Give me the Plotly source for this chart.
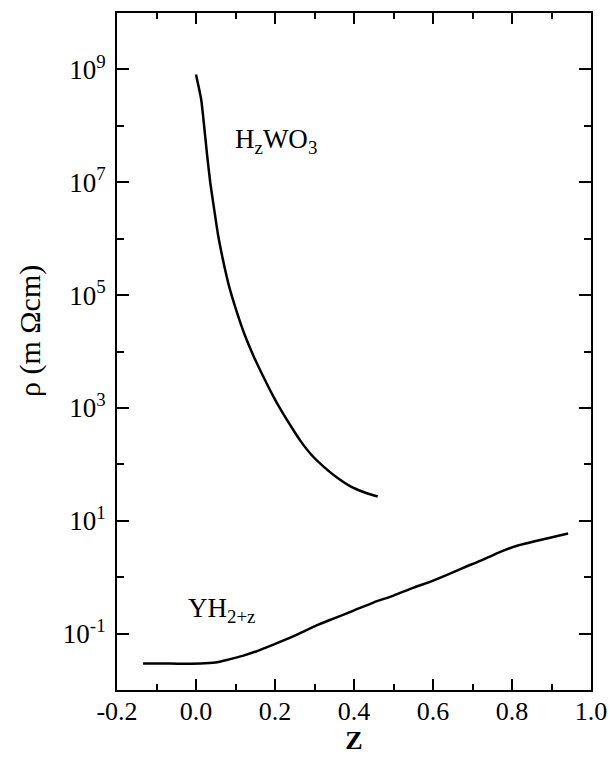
import plotly.graph_objects as go

# H_zWO3 curve (z, resistivity in mOhm cm), read as log10 values
hwo_z = [0.0, 0.013, 0.021, 0.028, 0.036, 0.046, 0.056, 0.069, 0.084, 0.102, 0.122, 0.145,
         0.170, 0.193, 0.216, 0.239, 0.264, 0.292, 0.323, 0.356, 0.391, 0.424, 0.460]
hwo_log = [8.91, 8.47, 7.97, 7.49, 7.00, 6.52, 6.06, 5.60, 5.15, 4.73, 4.32, 3.93,
           3.56, 3.24, 2.95, 2.69, 2.42, 2.17, 1.96, 1.77, 1.61, 1.51, 1.43]
hwo_rho = [10 ** v for v in hwo_log]

# YH_(2+z) curve
yh_z = [-0.134, -0.066, 0.011, 0.049, 0.082, 0.120, 0.158, 0.196, 0.239, 0.277, 0.310, 0.348,
        0.399, 0.449, 0.500, 0.551, 0.594, 0.637, 0.678, 0.721, 0.772, 0.815, 0.855, 0.899, 0.942]
yh_log = [-1.532, -1.532, -1.532, -1.514, -1.461, -1.390, -1.301, -1.195, -1.071, -0.947, -0.840, -0.734,
          -0.592, -0.450, -0.326, -0.184, -0.078, 0.046, 0.170, 0.294, 0.454, 0.560, 0.631, 0.702, 0.773]
yh_rho = [10 ** v for v in yh_log]

x_major = [-0.2, 0.0, 0.2, 0.4, 0.6, 0.8, 1.0]
x_labels = ["-0.2", "0.0", "0.2", "0.4", "0.6", "0.8", "1.0"]
x_minor = [-0.1, 0.1, 0.3, 0.5, 0.7, 0.9]
y_major_exp = [-1, 1, 3, 5, 7, 9]
y_minor_exp = [-2, 0, 2, 4, 6, 8, 10]

FONT = "Liberation Serif"

fig = go.Figure()
fig.add_trace(go.Scatter(x=hwo_z, y=hwo_rho, mode="lines",
                         line=dict(color="black", width=2.5, shape="spline", smoothing=0.6),
                         showlegend=False))
fig.add_trace(go.Scatter(x=yh_z, y=yh_rho, mode="lines",
                         line=dict(color="black", width=2.5, shape="spline", smoothing=0.6),
                         showlegend=False))

fig.add_annotation(x=0.094, y=7.74, xref="x", yref="y", xanchor="left", yanchor="middle",
                   text="H<sub>z</sub>WO<sub>3</sub>", showarrow=False,
                   font=dict(family=FONT, size=27, color="black"))
fig.add_annotation(x=-0.025, y=-0.58, xref="x", yref="y", xanchor="left", yanchor="middle",
                   text="YH<sub>2+z</sub>", showarrow=False,
                   font=dict(family=FONT, size=27, color="black"))
# y-axis title
fig.add_annotation(x=-0.184, y=0.53, xref="paper", yref="paper", xanchor="center", yanchor="middle",
                   text="ρ (m Ωcm)", textangle=-90, showarrow=False,
                   font=dict(family=FONT, size=30, color="black"))

fig.update_layout(
    template="none",
    width=610, height=758,
    margin=dict(l=117, r=19, t=13, b=68, autoexpand=False),
    paper_bgcolor="white", plot_bgcolor="white",
    font=dict(family=FONT, color="black", size=26),
    xaxis=dict(
        range=[-0.2, 1.0], tickmode="array", tickvals=x_major, ticktext=x_labels,
        ticks="inside", ticklen=11, tickwidth=2, tickcolor="black",
        showline=True, linecolor="black", linewidth=2, mirror="allticks",
        showgrid=False, zeroline=False, automargin=False,
        tickfont=dict(family=FONT, size=26, color="black"),
        ticklabelstandoff=-3,
        minor=dict(tickvals=x_minor, ticks="inside", ticklen=6, tickwidth=2, tickcolor="black", showgrid=False),
        title=dict(text="<b>Z</b>", font=dict(family=FONT, size=26, color="black"), standoff=6),
    ),
    yaxis=dict(
        type="log", range=[-2, 10], tickmode="array",
        tickvals=[10 ** e for e in y_major_exp],
        ticktext=[f"10<sup>{e}</sup>" for e in y_major_exp],
        ticks="inside", ticklen=12, tickwidth=2, tickcolor="black",
        showline=True, linecolor="black", linewidth=2, mirror="allticks",
        showgrid=False, zeroline=False, automargin=False,
        tickfont=dict(family=FONT, size=27, color="black"),
        ticklabelstandoff=4,
        minor=dict(tickvals=[10 ** e for e in y_minor_exp], ticks="inside", ticklen=7, tickwidth=2,
                   tickcolor="black", showgrid=False),
    ),
)

fig.write_html("out.html")
